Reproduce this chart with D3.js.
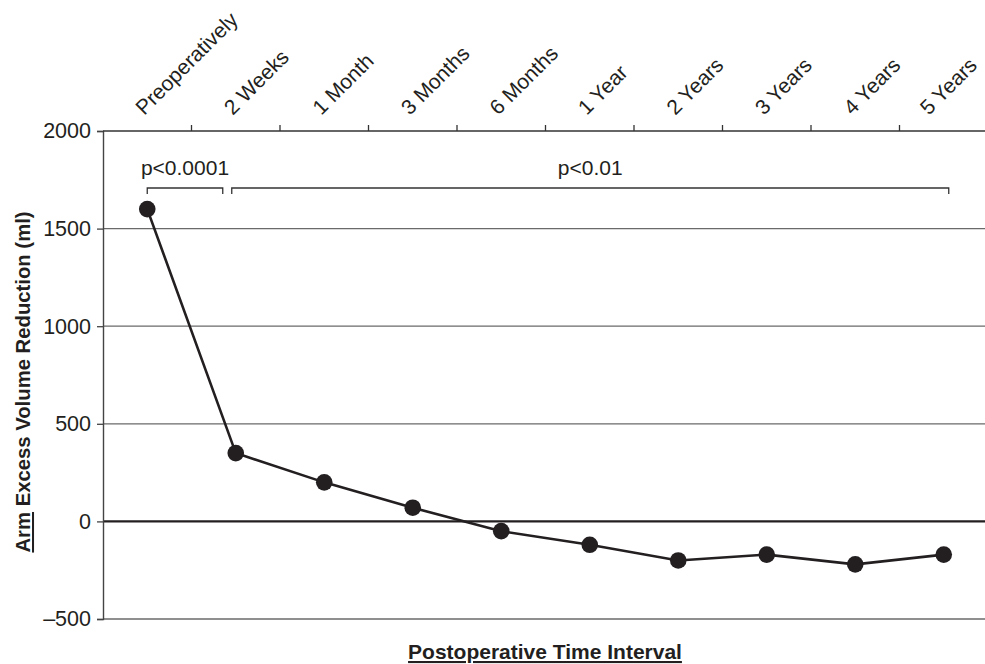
<!DOCTYPE html>
<html>
<head>
<meta charset="utf-8">
<script src="https://cdn.jsdelivr.net/npm/d3@7"></script>
<style>
  html, body { margin: 0; padding: 0; background: #fff; }
  svg { display: block; font-family: "Liberation Sans", Arial, Helvetica, sans-serif; }
</style>
</head>
<body>
<svg id="chart" width="985" height="664"></svg>
<script>
// Time points after surgery
const categories = ["Preoperatively", "2 Weeks", "1 Month", "3 Months", "6 Months",
                    "1 Year", "2 Years", "3 Years", "4 Years", "5 Years"];
// Mean arm excess volume (ml) at each time point
const volumes = [1600, 350, 200, 70, -50, -120, -200, -170, -220, -170];
// Value axis ticks
const yTicks = [2000, 1500, 1000, 500, 0, -500];
// Significance brackets: first and last category spanned, label
const bracketFrom = ["Preoperatively", "2 Weeks"];
const bracketTo = ["2 Weeks", "5 Years"];
const bracketLabels = ["p<0.0001", "p<0.01"];

const svg = d3.select("#chart");
const margin = { left: 103, right: -3, top: 131, bottom: 45 };
const W = 985, H = 664;
const x0 = margin.left, x1 = W - margin.right;
const yTop = margin.top, yBot = H - margin.bottom;

const x = d3.scaleBand().domain(categories).range([x0, x1]).paddingInner(0).paddingOuter(0);
const y = d3.scaleLinear().domain([-500, 2000]).range([yBot, yTop]);
const cx = c => x(c) + x.bandwidth() / 2;

const ink = "#231f20";

// Horizontal grid lines
svg.append("g")
  .selectAll("line")
  .data(yTicks.filter(v => v !== 0 && v !== 2000))
  .join("line")
  .attr("x1", x0).attr("x2", W)
  .attr("y1", d => y(d)).attr("y2", d => y(d))
  .attr("stroke", "#6a6a6a").attr("stroke-width", 1.3);

// Zero reference line
svg.append("line")
  .attr("x1", x0).attr("x2", W)
  .attr("y1", y(0)).attr("y2", y(0))
  .attr("stroke", ink).attr("stroke-width", 2.2);

// Left value axis
const yAxis = d3.axisLeft(y).tickValues(yTicks).tickSize(6).tickPadding(6)
  .tickFormat(d => d < 0 ? "\u2013" + Math.abs(d) : d);
const gy = svg.append("g").attr("transform", `translate(${x0},0)`).call(yAxis);
gy.select(".domain").attr("stroke", "#444").attr("stroke-width", 1.4);
gy.selectAll(".tick line").attr("stroke", "#444").attr("stroke-width", 1.3);
gy.selectAll(".tick text").attr("fill", ink).attr("font-size", 21.5)
  .attr("font-family", "Liberation Sans, Arial, sans-serif");

// Top category axis with band-edge ticks
const gx = svg.append("g").attr("transform", `translate(0,${yTop})`);
gx.append("line").attr("x1", x0).attr("x2", W).attr("y1", 0).attr("y2", 0)
  .attr("stroke", "#333").attr("stroke-width", 1.6);
gx.selectAll("line.tk")
  .data(categories.slice(1))
  .join("line").attr("class", "tk")
  .attr("x1", d => x(d)).attr("x2", d => x(d))
  .attr("y1", 0).attr("y2", -6)
  .attr("stroke", "#333").attr("stroke-width", 1.3);
// Rotated labels; the last one is nudged left so more of it stays on the page
const last = categories[categories.length - 1];
gx.selectAll("text")
  .data(categories)
  .join("text")
  .attr("transform", d => `translate(${cx(d) - 3 - (d === last ? 12 : 0)},${-15}) rotate(-45)`)
  .attr("text-anchor", "start")
  .attr("font-size", 21)
  .attr("fill", ink)
  .text(d => d);

// Significance brackets
const brackets = bracketLabels.map((lab, i) => ({
  lab,
  a: i === 0 ? cx(bracketFrom[i]) : cx(bracketFrom[i]) - 4,
  b: i === 0 ? cx(bracketTo[i]) - 13 : cx(bracketTo[i]) + 5
}));
const by = 188;
const gb = svg.append("g");
brackets.forEach(bk => {
  gb.append("path")
    .attr("d", `M${bk.a},${by + 6}V${by}H${bk.b}V${by + 6}`)
    .attr("fill", "none").attr("stroke", "#333").attr("stroke-width", 1.3);
  gb.append("text")
    .attr("x", (bk.a + bk.b) / 2).attr("y", by - 13)
    .attr("text-anchor", "middle").attr("font-size", 21).attr("fill", ink)
    .text(bk.lab);
});

// Data line and markers
const line = d3.line().x((d, i) => cx(categories[i])).y(d => y(d));
svg.append("path").datum(volumes)
  .attr("d", line).attr("fill", "none")
  .attr("stroke", ink).attr("stroke-width", 2.6);
svg.append("g").selectAll("circle")
  .data(volumes)
  .join("circle")
  .attr("cx", (d, i) => cx(categories[i]))
  .attr("cy", d => y(d))
  .attr("r", 8.3)
  .attr("fill", ink);

// Axis titles
svg.append("text")
  .attr("x", 545).attr("y", 659)
  .attr("text-anchor", "middle").attr("font-weight", "bold").attr("font-size", 21)
  .attr("fill", ink).attr("text-decoration", "underline")
  .text("Postoperative Time Interval");

const yt = svg.append("text")
  .attr("transform", `translate(30,382) rotate(-90)`)
  .attr("text-anchor", "middle").attr("font-weight", "bold").attr("font-size", 20.3)
  .attr("fill", ink);
yt.append("tspan").attr("text-decoration", "underline").text("Arm");
yt.append("tspan").text(" Excess Volume Reduction (ml)");
</script>
</body>
</html>
